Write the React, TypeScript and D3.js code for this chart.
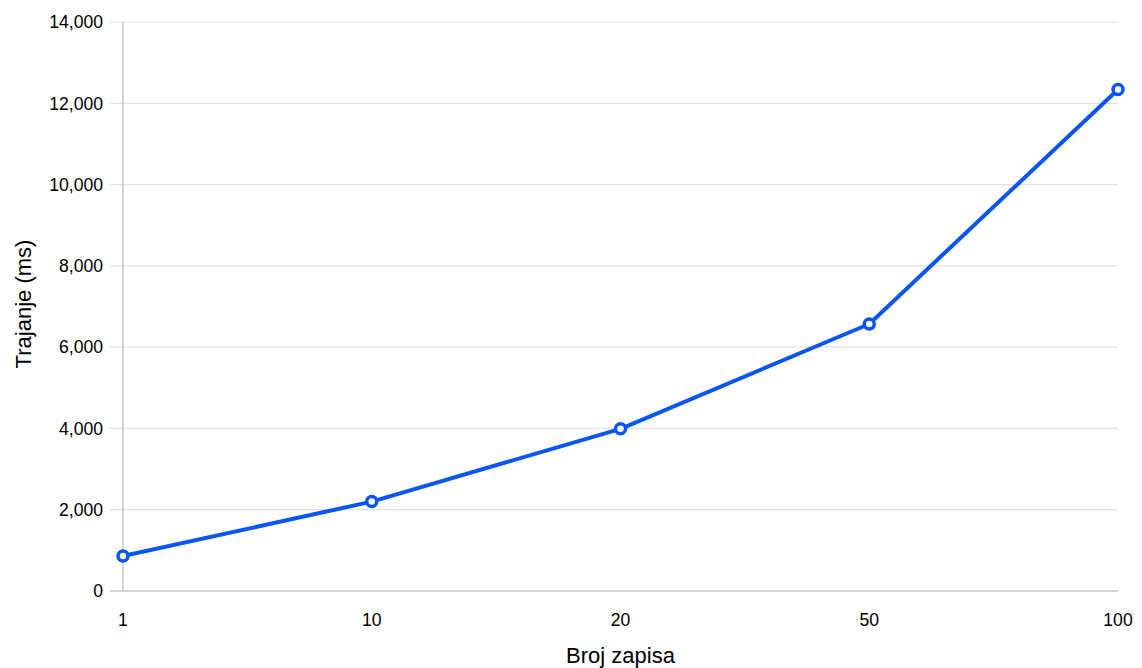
import React from "react";
import * as d3 from "d3";

const categories = ["1", "10", "20", "50", "100"];
const durations = [860, 2200, 3990, 6570, 12340];
const yTicks = [0, 2000, 4000, 6000, 8000, 10000, 12000, 14000];

const W = 1142;
const H = 668;
const left = 123;
const right = 1118;
const top = 22;
const bottom = 591;
const font = "Helvetica, 'Liberation Sans', Arial, sans-serif";

export default function App() {
  const x = d3.scalePoint<string>().domain(categories).range([left, right]).padding(0);
  const y = d3.scaleLinear().domain([0, 14000]).range([bottom, top]);
  const fmt = d3.format(",");
  const line = d3
    .line<number>()
    .x((_, i) => x(categories[i]) as number)
    .y((d) => y(d));

  return (
    <svg
      width={W}
      height={H}
      style={{ position: "absolute", left: 0, top: 0, background: "#fff" }}
      fontFamily={font}
    >
      {yTicks.map((t) => (
        <g key={t}>
          <line
            x1={110}
            x2={right}
            y1={y(t)}
            y2={y(t)}
            stroke={t === 0 ? "#c4c4c4" : "#e3e3e3"}
            strokeWidth={t === 0 ? 1.5 : 1.2}
          />
          <text x={103} y={y(t)} dy="0.36em" textAnchor="end" fontSize={17.6} fill="#000">
            {fmt(t)}
          </text>
        </g>
      ))}
      <line x1={left} x2={left} y1={top} y2={bottom} stroke="#c4c4c4" strokeWidth={1.5} />
      {categories.map((c) => (
        <text key={c} x={x(c)} y={626} textAnchor="middle" fontSize={17.6} fill="#000">
          {c}
        </text>
      ))}
      <text x={(left + right) / 2} y={663} textAnchor="middle" fontSize={22} fill="#000">
        Broj zapisa
      </text>
      <text
        transform={`translate(31, 304) rotate(-90)`}
        textAnchor="middle"
        fontSize={22}
        fill="#000"
      >
        Trajanje (ms)
      </text>
      <path d={line(durations) || ""} fill="none" stroke="#0a55f5" strokeWidth={4} strokeLinejoin="round" />
      {durations.map((d, i) => (
        <circle
          key={i}
          cx={x(categories[i])}
          cy={y(d)}
          r={5}
          fill="#fff"
          stroke="#0a55f5"
          strokeWidth={3.5}
        />
      ))}
    </svg>
  );
}
